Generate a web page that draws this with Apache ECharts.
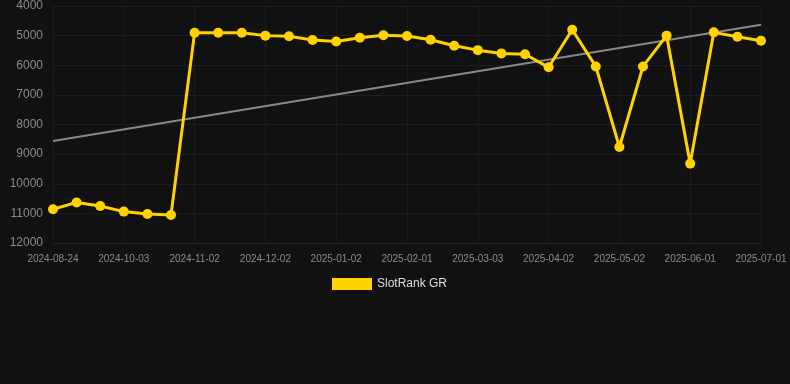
<!DOCTYPE html>
<html>
<head>
<meta charset="utf-8">
<script src="https://cdn.jsdelivr.net/npm/echarts@6/dist/echarts.min.js"></script>
<style>
html,body{margin:0;padding:0;background:#111111;}
#chart{width:790px;height:384px;}
</style>
</head>
<body>
<div id="chart"></div>
<script>
var categories = [
  '2024-08-24','2024-09-06','2024-09-20','2024-10-03','2024-10-13','2024-10-23',
  '2024-11-02','2024-11-12','2024-11-22','2024-12-02','2024-12-12','2024-12-22',
  '2025-01-02','2025-01-12','2025-01-22','2025-02-01','2025-02-11','2025-02-21',
  '2025-03-03','2025-03-13','2025-03-23','2025-04-02','2025-04-12','2025-04-22',
  '2025-05-02','2025-05-12','2025-05-22','2025-06-01','2025-06-11','2025-06-21',
  '2025-07-01'
];
var rankValues = [
  10860, 10630, 10750, 10940, 11020, 11055,
  4900, 4900, 4900, 5000, 5020, 5150,
  5200, 5070, 4990, 5010, 5140, 5340,
  5490, 5600, 5630, 6070, 4800, 6040,
  8760, 6040, 5000, 9320, 4890, 5040,
  5170
];
var trendStart = 8560;
var trendEnd = 4630;
var yTicks = { min: 4000, max: 12000, step: 1000 };
var seriesName = 'SlotRank GR';

var trendData = categories.map(function(c, i){
  if (i === 0) return trendStart;
  if (i === categories.length - 1) return trendEnd;
  return null;
});

var chart = echarts.init(document.getElementById('chart'), null, {renderer:'canvas'});
var font = 'Liberation Sans, Arial, sans-serif';
chart.setOption({
  backgroundColor: '#111111',
  animation: false,
  textStyle: { fontFamily: font },
  grid: { left: 53, right: 29, top: 6, bottom: 141, containLabel: false },
  legend: {
    data: [{ name: seriesName, icon: 'rect' }],
    top: 273, left: 327,
    itemWidth: 40, itemHeight: 12, itemGap: 10,
    textStyle: { color: '#dddddd', fontSize: 12, fontFamily: font }
  },
  xAxis: {
    type: 'category',
    data: categories,
    boundaryGap: false,
    axisLine: { show: true, lineStyle: { color: '#242424' } },
    axisTick: { show: false },
    axisLabel: { interval: 2, color: '#8a8a8a', fontSize: 10, margin: 11, fontFamily: font },
    splitLine: { show: true, interval: 2, lineStyle: { color: '#1b1b1b', width: 1 } }
  },
  yAxis: {
    type: 'value',
    inverse: true,
    min: yTicks.min, max: yTicks.max, interval: yTicks.step,
    axisLine: { show: false },
    axisTick: { show: false },
    axisLabel: { color: '#8a8a8a', fontSize: 12, margin: 10, fontFamily: font,
      formatter: function(v){ return String(v); } },
    splitLine: { show: true, lineStyle: { color: '#1d1d1d', width: 1 } }
  },
  series: [
    {
      name: seriesName,
      type: 'line',
      data: rankValues,
      symbol: 'circle',
      symbolSize: 10,
      itemStyle: { color: '#FFD200' },
      lineStyle: { color: '#FFD200', width: 3 },
      z: 3
    },
    {
      name: 'trend',
      type: 'line',
      data: trendData,
      connectNulls: true,
      symbol: 'none',
      lineStyle: { color: '#888888', width: 2 },
      itemStyle: { color: '#888888' },
      z: 2,
      silent: true
    }
  ]
});
</script>
</body>
</html>
